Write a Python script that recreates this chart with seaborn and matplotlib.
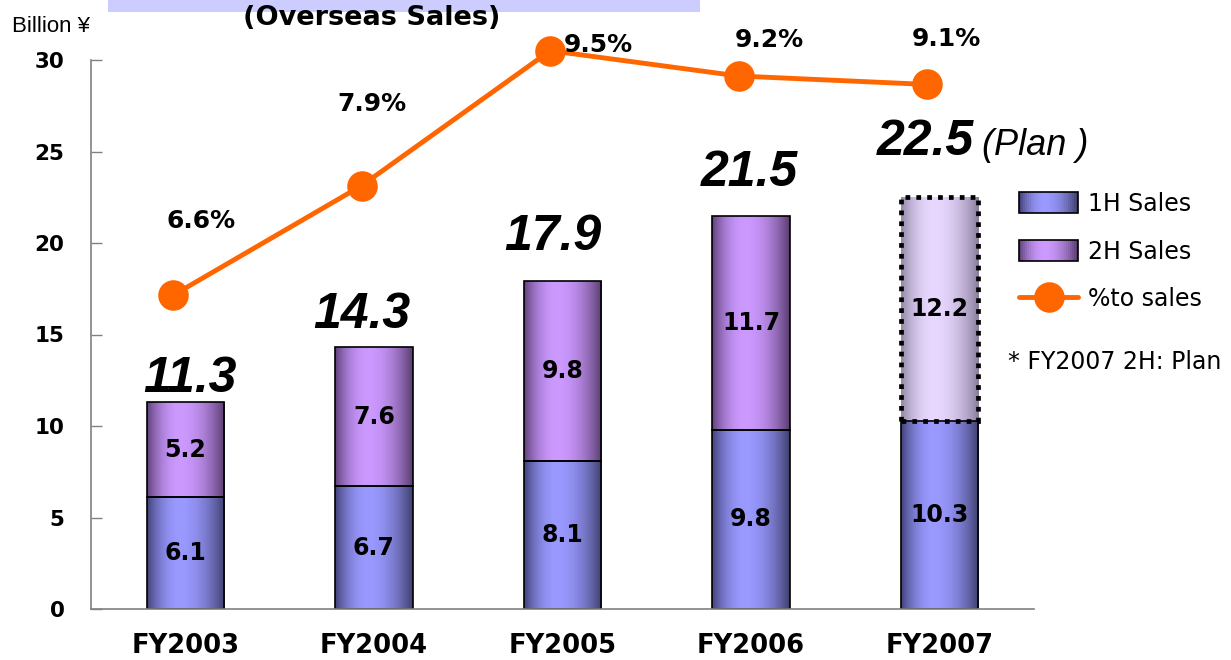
import numpy as np
import pandas as pd
import matplotlib
matplotlib.use('Agg')
import matplotlib.pyplot as plt
from matplotlib.patches import Rectangle, Patch
from matplotlib.lines import Line2D
from matplotlib.legend_handler import HandlerBase
from matplotlib.colors import to_rgb
import seaborn as sns

# 데이터
years = ['FY2003', 'FY2004', 'FY2005', 'FY2006', 'FY2007']
sales_1h = [6.1, 6.7, 8.1, 9.8, 10.3]
sales_2h = [5.2, 7.6, 9.8, 11.7, 12.2]
totals = [11.3, 14.3, 17.9, 21.5, 22.5]
pct_to_sales = [6.6, 7.9, 9.5, 9.2, 9.1]
pct_labels = ['6.6%', '7.9%', '9.5%', '9.2%', '9.1%']
y_ticks = [0, 5, 10, 15, 20, 25, 30]

sns.set_style('white')
plt.rcParams['font.family'] = ['DejaVu Sans']
plt.rcParams['text.color'] = 'black'
plt.rcParams['xtick.color'] = 'black'
plt.rcParams['ytick.color'] = 'black'
plt.rcParams['axes.labelcolor'] = 'black'

orange = '#ff6600'
axis_grey = '#808080'

# 그라데이션 색 (왼쪽 가장자리, 가운데, 오른쪽 가장자리)
grad_1h = ['#44447c', '#9999ff', '#404070']
grad_2h = ['#62447e', '#cc99ff', '#5a3e70']
grad_plan = ['#948aa8', '#e8d8ff', '#8a7e9c']


def grad_colors(stops, n=64):
    t = np.linspace(0, 1, n)
    peak = 0.42
    w = np.where(t < peak, 1 - ((peak - t) / peak) ** 2,
                 1 - ((t - peak) / (1 - peak)) ** 2)
    left, mid, right = [np.array(to_rgb(c)) for c in stops]
    edge = np.where((t < peak)[:, None], left, right)
    return np.clip(edge + (mid - edge) * w[:, None], 0, 1)


class GradientHandler(HandlerBase):
    def __init__(self, stops):
        super().__init__()
        self.stops = stops

    def create_artists(self, legend, orig_handle, xdescent, ydescent,
                       width, height, fontsize, trans):
        cols = grad_colors(self.stops, 30)
        n = len(cols)
        arts = []
        for k, c in enumerate(cols):
            arts.append(Rectangle((-xdescent + width * k / n, -ydescent),
                                  width / n * 1.1, height, facecolor=c,
                                  edgecolor='none', transform=trans))
        arts.append(Rectangle((-xdescent, -ydescent), width, height,
                              facecolor='none', edgecolor='black', lw=1.2,
                              transform=trans))
        return arts


W, H = 1231, 660
fig = plt.figure(figsize=(W / 100, H / 100), dpi=100)
ax = fig.add_axes([91 / W, 51 / H, (1034 - 91) / W, (609 - 60) / H])

df = pd.DataFrame({'year': years, 'h1': sales_1h, 'h2': sales_2h})

sns.barplot(data=df, x='year', y='h1', color=grad_1h[1], width=0.41,
            edgecolor='black', linewidth=1.2, ax=ax)
sns.barplot(data=df, x='year', y='h2', bottom=sales_1h, color=grad_2h[1],
            width=0.41, edgecolor='black', linewidth=1.2, ax=ax)

# 막대에 그라데이션 입히기
for i, p in enumerate(ax.patches):
    stops = grad_1h if i < 5 else (grad_plan if i == 9 else grad_2h)
    x0, y0 = p.get_x(), p.get_y()
    w, h = p.get_width(), p.get_height()
    img = ax.imshow(grad_colors(stops)[None, :, :], extent=[x0, x0 + w, y0, y0 + h],
                    aspect='auto', interpolation='bilinear', zorder=1.5)
    img.set_clip_path(p)
    p.set_facecolor('none')
    p.set_zorder(2)

plan = ax.patches[9]
plan.set_linestyle((0, (1.0, 1.3)))
plan.set_linewidth(3.4)

ax.set_xlim(-0.5, 4.5)
ax.set_ylim(0, 30)
ax.set_yticks(y_ticks)
ax.set_xticks(range(5))
ax.set_xticks(np.arange(-0.5, 5, 1), minor=True)
ax.set_xlabel('')
ax.set_ylabel('')

for s in ['top', 'right']:
    ax.spines[s].set_visible(False)
for s in ['left', 'bottom']:
    ax.spines[s].set_color(axis_grey)
    ax.spines[s].set_linewidth(1.2)

ax.tick_params(axis='y', direction='in', length=8, width=1, color=axis_grey,
               pad=19, labelsize=15.5, labelcolor='black')
ax.tick_params(axis='x', which='major', length=0, pad=17, labelsize=18.5,
               labelcolor='black')
ax.tick_params(axis='x', which='minor', direction='in', length=8, width=1,
               color=axis_grey)
plt.setp(ax.get_yticklabels(), fontweight='bold')
plt.setp(ax.get_xticklabels(), fontweight='bold')

# 막대 안 값
for i in range(5):
    ax.text(i, sales_1h[i] / 2, f'{sales_1h[i]:.1f}', ha='center', va='center',
            fontsize=17, fontweight='bold', zorder=3)
    ax.text(i, sales_1h[i] + sales_2h[i] / 2, f'{sales_2h[i]:.1f}', ha='center',
            va='center', fontsize=17, fontweight='bold', zorder=3)

# 합계
total_offsets = [(5, 10), (-12, 19), (-10, 31), (-2, 30), (-14, 42)]
for i, (dx, dy) in enumerate(total_offsets):
    ax.annotate(f'{totals[i]:.1f}', xy=(i, totals[i]), xytext=(dx, dy),
                textcoords='offset pixels', ha='center', va='baseline',
                fontsize=36, fontweight='bold', fontstyle='italic',
                family='Liberation Sans', annotation_clip=False, zorder=4)
ax.annotate('(Plan )', xy=(4, totals[4]), xytext=(42, 42),
            textcoords='offset pixels', ha='left', va='baseline',
            fontsize=26, fontstyle='italic', family='Liberation Sans',
            annotation_clip=False)

# %to sales 선
ax2 = ax.twinx()
line_x = np.arange(5) - 0.065
sns.lineplot(x=line_x, y=pct_to_sales, ax=ax2, color=orange, lw=3.5,
             marker='o', markersize=22, markeredgewidth=0, clip_on=False)
ax2.set_ylim(2.88, 9.39)
ax2.set_xlim(-0.5, 4.5)
ax2.set_axis_off()

pct_offsets = [(28, 67), (10, 75), (48, -1), (30, 29), (19, 38)]
for i, (dx, dy) in enumerate(pct_offsets):
    ax2.annotate(pct_labels[i], xy=(line_x[i], pct_to_sales[i]), xytext=(dx, dy),
                 textcoords='offset pixels', ha='center', va='baseline',
                 fontsize=18, fontweight='bold', annotation_clip=False)

# 범례
h1_handle = Patch(label='1H Sales')
h2_handle = Patch(label='2H Sales')
line_handle = Line2D([], [], color=orange, lw=3.5, marker='o', markersize=22,
                     markeredgewidth=0, label='%to sales')
ax2.legend(handles=[h1_handle, h2_handle, line_handle],
           handler_map={h1_handle: GradientHandler(grad_1h),
                        h2_handle: GradientHandler(grad_2h)},
           loc='upper left', bbox_to_anchor=(1019 / W, 1 - 192 / H),
           bbox_transform=fig.transFigure, frameon=False, fontsize=17,
           handlelength=2.5, handleheight=1.0, handletextpad=0.42,
           labelspacing=1.0, borderpad=0, borderaxespad=0)

fig.text(1008 / W, 1 - 362 / H, '* FY2007 2H: Plan', ha='left', va='center',
         fontsize=17)

# 제목 부분
fig.patches.append(Rectangle((108 / W, 1 - 12 / H), (700 - 108) / W, 12 / H,
                             transform=fig.transFigure, facecolor='#ccccff',
                             edgecolor='none', zorder=0))
fig.text(372 / W, 1 - 25 / H, '(Overseas Sales)', ha='center', va='baseline',
         fontsize=19.5, fontweight='bold')
fig.text(12 / W, 1 - 32 / H, 'Billion ¥', ha='left', va='baseline',
         fontsize=16, family='Liberation Sans')

fig.savefig('out.png', dpi=100)
